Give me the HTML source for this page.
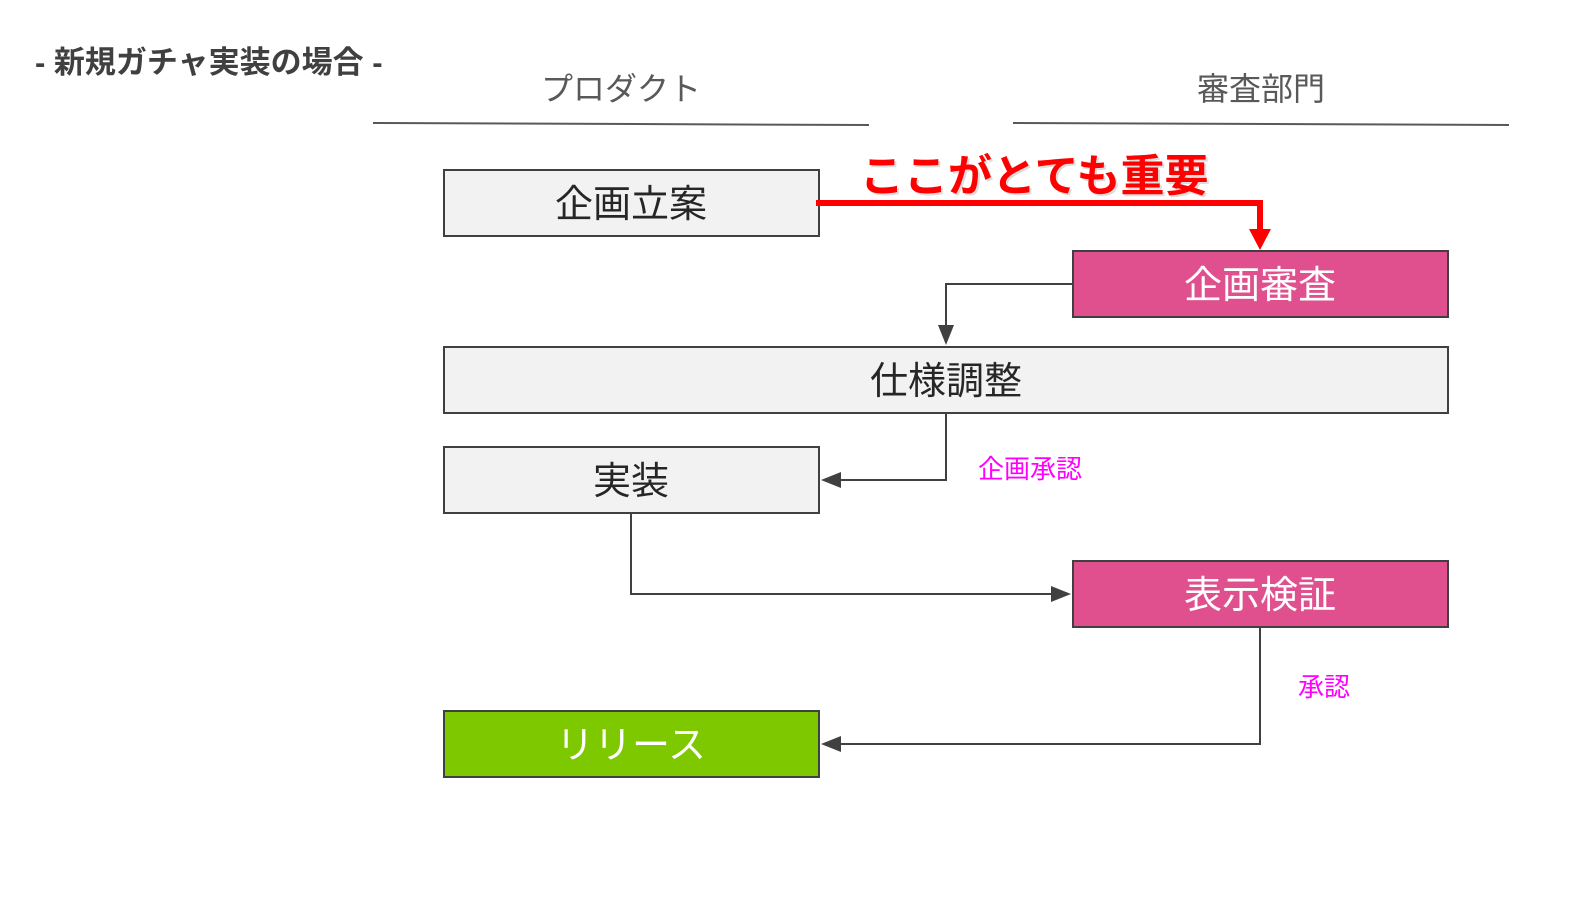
<!DOCTYPE html>
<html><head><meta charset="utf-8"><style>
body{margin:0;width:1582px;height:892px;background:#fff;overflow:hidden}
svg text{font-family:"Liberation Sans","Noto Sans CJK JP",sans-serif}
</style></head><body>
<svg width="1582" height="892" viewBox="0 0 1582 892">
<text x="35" y="73" font-size="31" font-weight="bold" fill="#404040">- 新規ガチャ実装の場合 -</text>
<text x="621" y="100" font-size="32" fill="#595959" text-anchor="middle">プロダクト</text>
<text x="1261" y="100" font-size="32" fill="#595959" text-anchor="middle">審査部門</text>
<line x1="373" y1="123" x2="869" y2="125" stroke="#595959" stroke-width="2"/>
<line x1="1013" y1="123" x2="1509" y2="125" stroke="#595959" stroke-width="2"/>

<g stroke="#404040" stroke-width="2">
<rect x="444" y="170" width="375" height="66" fill="#f2f2f2"/>
<rect x="1073" y="251" width="375" height="66" fill="#e0508f"/>
<rect x="444" y="347" width="1004" height="66" fill="#f2f2f2"/>
<rect x="444" y="447" width="375" height="66" fill="#f2f2f2"/>
<rect x="1073" y="561" width="375" height="66" fill="#e0508f"/>
<rect x="444" y="711" width="375" height="66" fill="#7ec800"/>
</g>
<g font-size="38" text-anchor="middle">
<text x="631" y="217" fill="#262626">企画立案</text>
<text x="1260" y="298" fill="#fff">企画審査</text>
<text x="946" y="394" fill="#262626">仕様調整</text>
<text x="631" y="494" fill="#262626">実装</text>
<text x="1260" y="608" fill="#fff">表示検証</text>
<text x="631" y="758" fill="#fff">リリース</text>
</g>

<g stroke="#404040" stroke-width="2" fill="none">
<polyline points="1073,284 946,284 946,337" />
<polyline points="946,413 946,480 829,480"/>
<polyline points="631,513 631,594 1063,594"/>
<polyline points="1260,627 1260,744 829,744"/>
</g>
<g fill="#404040">
<path d="M938,325 L954,325 L946,345 z"/>
<path d="M841,472 L841,488 L821,480 z"/>
<path d="M1051,586 L1051,602 L1071,594 z"/>
<path d="M841,736 L841,752 L821,744 z"/>
</g>

<polyline points="816,203 1260,203 1260,232" stroke="#ff0000" stroke-width="6" fill="none"/>
<path d="M1249,229 L1271,229 L1260,250 z" fill="#ff0000"/>
<text x="862" y="193" font-size="44" font-weight="bold" fill="#c8c8c8" opacity="0.6">ここがとても重要</text>
<text x="860" y="191" font-size="44" font-weight="bold" fill="#ff0000">ここがとても重要</text>

<text x="978" y="478" font-size="26" fill="#ff00ff">企画承認</text>
<text x="1298" y="696" font-size="26" fill="#ff00ff">承認</text>
</svg>
</body></html>
